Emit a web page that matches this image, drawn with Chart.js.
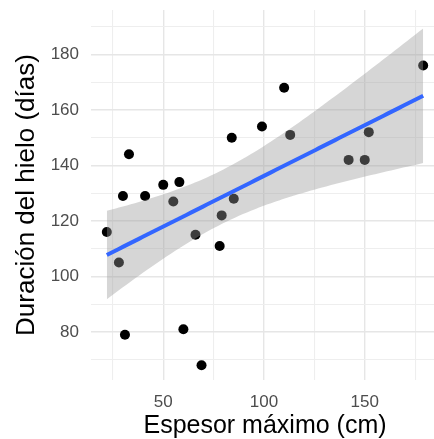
<!DOCTYPE html>
<html>
<head>
<meta charset="utf-8">
<script src="https://cdn.jsdelivr.net/npm/chart.js@4/dist/chart.umd.min.js"></script>
<style>
  html, body { margin: 0; padding: 0; background: #ffffff; overflow: hidden; }
  #wrap { width: 434px; height: 439px; overflow: hidden; }
</style>
</head>
<body>
<div id="wrap"><canvas id="c" width="444" height="439"></canvas></div>
<script>
// Maximum ice thickness (cm) and ice duration (days), one entry per winter
const espesor = [33, 84, 30, 41, 50, 58, 55, 85, 79, 179, 110, 99, 113, 152, 142, 150, 22, 28, 66, 78, 31, 60, 69];
const duracion = [144, 150, 129, 129, 133, 134, 127, 128, 122, 176, 168, 154, 151, 152, 142, 142, 116, 105, 115, 111, 79, 81, 68];

// Grid positions (major + minor) and the labelled ones
const xGrid = [25, 50, 75, 100, 125, 150, 175];
const xLabels = [50, 100, 150];
const yGrid = [70, 80, 90, 100, 110, 120, 130, 140, 150, 160, 170, 180, 190];
const yLabels = [80, 100, 120, 140, 160, 180];

// Ordinary least squares fit with a 95% confidence band for the mean
const n = espesor.length;
const mx = espesor.reduce((a, b) => a + b, 0) / n;
const my = duracion.reduce((a, b) => a + b, 0) / n;
let sxx = 0, sxy = 0;
for (let i = 0; i < n; i++) {
  sxx += (espesor[i] - mx) ** 2;
  sxy += (espesor[i] - mx) * (duracion[i] - my);
}
const slope = sxy / sxx;
const intercept = my - slope * mx;
let sse = 0;
for (let i = 0; i < n; i++) sse += (duracion[i] - (intercept + slope * espesor[i])) ** 2;
const sigma = Math.sqrt(sse / (n - 2));
const T_CRIT = 2.0796; // two-sided 95% t quantile, df = n - 2 = 21

const xMin = Math.min(...espesor), xMax = Math.max(...espesor);
const fitLine = [], upper = [], lower = [];
const STEPS = 80;
for (let k = 0; k < STEPS; k++) {
  const x = xMin + (xMax - xMin) * k / (STEPS - 1);
  const yhat = intercept + slope * x;
  const se = sigma * Math.sqrt(1 / n + (x - mx) ** 2 / sxx);
  fitLine.push({ x, y: yhat });
  upper.push({ x, y: yhat + T_CRIT * se });
  lower.push({ x, y: yhat - T_CRIT * se });
}

const points = espesor.map((x, i) => ({ x, y: duracion[i] }));

// 5% padding on each side of the x data range
const xPad = (xMax - xMin) * 0.05;

const FONT = "'Liberation Sans', Arial, Helvetica, sans-serif";

const gridColor = (labels) => (ctx) => labels.includes(ctx.tick.value) ? '#e6e6e6' : '#eeeeee';
const gridWidth = (labels) => (ctx) => labels.includes(ctx.tick.value) ? 1.4 : 1.1;

// Pin the plotting area so the panel starts near the top edge
const pinTop = {
  id: 'pinTop',
  afterLayout(chart) {
    const a = chart.chartArea;
    const top = 10;
    if (Math.abs(a.top - top) > 0.5) {
      const y = chart.scales.y;
      a.top = top;
      y.top = top;
      y.height = a.bottom - top;
      y.configure();
    }
  }
};

new Chart(document.getElementById('c'), {
  type: 'scatter',
  data: {
    datasets: [
      {
        data: fitLine, showLine: true, borderColor: '#3366FF', borderWidth: 4,
        pointRadius: 0, fill: false, order: 0
      },
      {
        data: upper, showLine: true, borderWidth: 0, borderColor: 'rgba(0,0,0,0)',
        backgroundColor: 'rgba(153,153,153,0.4)', pointRadius: 0, fill: '+1', order: 1
      },
      {
        data: lower, showLine: true, borderWidth: 0, borderColor: 'rgba(0,0,0,0)',
        pointRadius: 0, fill: false, order: 2
      },
      {
        data: points, backgroundColor: '#000000', borderWidth: 0,
        pointRadius: 5, pointHoverRadius: 5, order: 3
      }
    ]
  },
  plugins: [pinTop],
  options: {
    responsive: false,
    devicePixelRatio: 1,
    animation: false,
    layout: { padding: { top: 0, left: 0, right: 0, bottom: 0 } },
    plugins: { legend: { display: false }, tooltip: { enabled: false } },
    scales: {
      x: {
        type: 'linear',
        min: xMin - xPad, max: xMax + xPad,
        afterBuildTicks: (s) => { s.ticks = xGrid.map(v => ({ value: v })); },
        afterFit: (s) => { s.height = 59; },
        border: { display: false },
        grid: { color: gridColor(xLabels), lineWidth: gridWidth(xLabels), drawTicks: false },
        ticks: {
          autoSkip: false, maxRotation: 0, padding: 12,
          color: '#4d4d4d', font: { family: FONT, size: 17 },
          callback: (v) => xLabels.includes(v) ? String(v) : ''
        },
        title: {
          display: true, text: 'Espesor máximo (cm)', color: '#000000',
          font: { family: FONT, size: 25, lineHeight: 1.05 }, padding: { top: 0, bottom: 0 }
        }
      },
      y: {
        type: 'linear',
        min: 62.7, max: 196,
        afterBuildTicks: (s) => { s.ticks = yGrid.map(v => ({ value: v })); },
        afterFit: (s) => { s.width = 91; },
        border: { display: false },
        grid: { color: gridColor(yLabels), lineWidth: gridWidth(yLabels), drawTicks: false },
        ticks: {
          autoSkip: false, padding: 12,
          color: '#4d4d4d', font: { family: FONT, size: 17 },
          callback: (v) => yLabels.includes(v) ? String(v) : ''
        },
        title: {
          display: true, text: 'Duración del hielo (días)', color: '#000000',
          font: { family: FONT, size: 26 }, padding: { top: 11, bottom: 0 }
        }
      }
    }
  }
});
</script>
</body>
</html>
